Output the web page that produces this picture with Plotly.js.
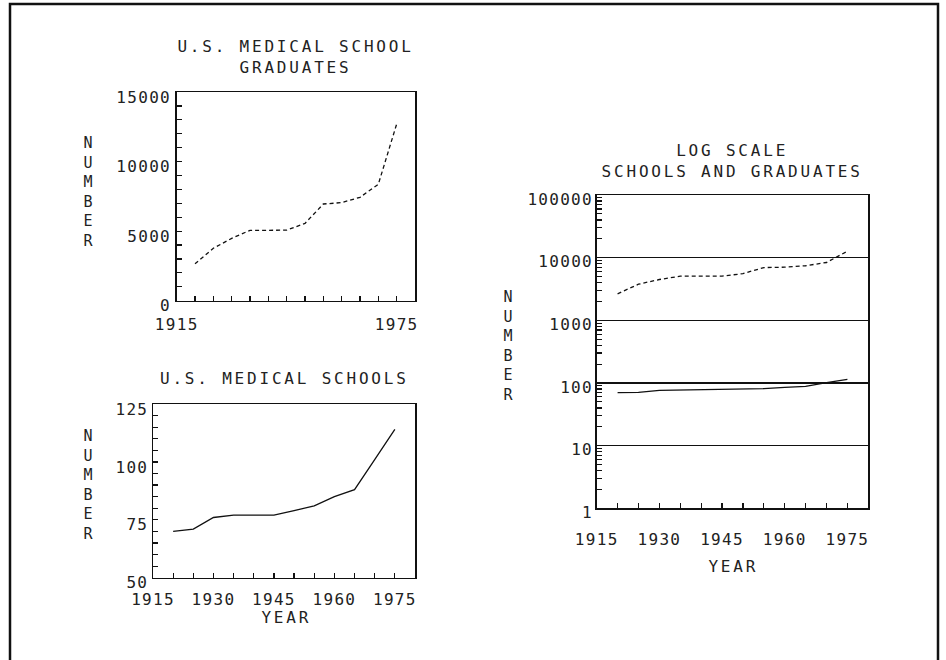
<!DOCTYPE html>
<html>
<head>
<meta charset="utf-8">
<script src="https://cdn.plot.ly/plotly-3.0.1.min.js"></script>
<style>
  html, body { margin: 0; padding: 0; background: #fff; }
  #chart .xtick text, #chart .ytick text,
  #chart .x2tick text, #chart .y2tick text,
  #chart .x3tick text, #chart .y3tick text { letter-spacing: 1.3px; }
  #chart .annotation-text { letter-spacing: 2.8px; }
</style>
</head>
<body>
<div id="chart" style="width:946px;height:660px;"></div>
<script>
// ---- Data ----
const years = [1920, 1925, 1930, 1935, 1940, 1945, 1950, 1955, 1960, 1965, 1970, 1975];
const graduates = [2650, 3770, 4480, 5060, 5060, 5070, 5560, 6950, 7050, 7430, 8370, 12700];
const schools = [70, 71, 76, 77, 77, 77, 79, 81, 85, 88, 101, 114];

const gradTickVals = [0, 5000, 10000, 15000];
const gradTickText = ['0', '5000', '10000', '15000'];
const schoolTickVals = [50, 75, 100, 125];
const schoolTickText = ['50', '75', '100', '125'];
const logTickVals = [1, 10, 100, 1000, 10000, 100000];
const logTickText = ['1', '10', '100', '1000', '10000', '100000'];
const yearTicksTop = [1915, 1975];
const yearTicks = [1915, 1930, 1945, 1960, 1975];

const titleTopLeft = 'U.S. MEDICAL SCHOOL<br>GRADUATES';
const titleBottomLeft = 'U.S. MEDICAL SCHOOLS';
const titleRight = 'LOG SCALE<br>SCHOOLS AND GRADUATES';
const yTitle = 'N<br>U<br>M<br>B<br>E<br>R';
const xTitle = 'YEAR';

// ---- Styling ----
const W = 946, H = 660;
const ink = '#111';
const txt = '#222';
const FONT = 'DejaVu Sans Mono';
const px = v => v / W;
const py = v => 1 - v / H;

const baseAxis = {
  showline: true, mirror: true, linecolor: ink, linewidth: 1.5,
  ticks: 'inside', ticklen: 5, tickwidth: 1.2, tickcolor: ink,
  showgrid: false, zeroline: false, fixedrange: true,
  tickfont: {family: FONT, size: 16, color: txt}
};

const gradDash = {color: ink, width: 1.3, dash: '4px,3px'};
const schoolLine = {color: ink, width: 1.3};

const data = [
  {x: years, y: graduates, xaxis: 'x', yaxis: 'y', mode: 'lines', line: gradDash},
  {x: years, y: schools, xaxis: 'x2', yaxis: 'y2', mode: 'lines', line: schoolLine},
  {x: years, y: graduates, xaxis: 'x3', yaxis: 'y3', mode: 'lines', line: gradDash},
  {x: years, y: schools, xaxis: 'x3', yaxis: 'y3', mode: 'lines', line: schoolLine}
];

const xMinor = {dtick: 5, tick0: 1915, ticks: 'inside', ticklen: 5, tickwidth: 1.2, tickcolor: ink};
const annFont = {family: FONT, size: 16, color: txt};
const yTitleFont = {family: FONT, size: 15, color: txt};

const layout = {
  width: W, height: H,
  margin: {l: 0, r: 0, t: 0, b: 0, pad: 0},
  paper_bgcolor: '#fff', plot_bgcolor: '#fff',
  showlegend: false, hovermode: false,
  font: {family: FONT, size: 16, color: txt},
  xaxis: Object.assign({}, baseAxis, {
    domain: [px(176.7), px(415)], anchor: 'y', range: [1915, 1980],
    tickmode: 'array', tickvals: yearTicksTop, ticktext: yearTicksTop.map(String),
    minor: xMinor, ticklabelstandoff: 9
  }),
  yaxis: Object.assign({}, baseAxis, {
    domain: [py(300.7), py(92)], anchor: 'x', range: [0, 15000],
    tickmode: 'array', tickvals: gradTickVals, ticktext: gradTickText,
    minor: {dtick: 1000, ticks: 'inside', ticklen: 5, tickwidth: 1.2, tickcolor: ink},
    ticklabelshift: 5, ticklabelstandoff: 1
  }),
  xaxis2: Object.assign({}, baseAxis, {
    domain: [px(153), px(415)], anchor: 'y2', range: [1915, 1980],
    tickmode: 'array', tickvals: yearTicks, ticktext: yearTicks.map(String),
    minor: xMinor, ticklabelstandoff: 7
  }),
  yaxis2: Object.assign({}, baseAxis, {
    domain: [py(577.7), py(404)], anchor: 'x2', range: [50, 125],
    tickmode: 'array', tickvals: schoolTickVals, ticktext: schoolTickText,
    minor: {dtick: 5, ticks: 'inside', ticklen: 5, tickwidth: 1.2, tickcolor: ink},
    ticklabelshift: 5, ticklabelstandoff: 0
  }),
  xaxis3: Object.assign({}, baseAxis, {
    domain: [px(596.7), px(868.3)], anchor: 'y3', range: [1915, 1980],
    tickmode: 'array', tickvals: yearTicks, ticktext: yearTicks.map(String),
    minor: xMinor, ticklabelstandoff: 16
  }),
  yaxis3: Object.assign({}, baseAxis, {
    domain: [py(508.3), py(195)], anchor: 'x3', type: 'log', range: [0, 5],
    tickmode: 'array', tickvals: logTickVals, ticktext: logTickText,
    showgrid: true, gridcolor: ink, gridwidth: 1.3,
    minor: {dtick: 'D1', ticks: 'inside', ticklen: 5, tickwidth: 1.2, tickcolor: ink, showgrid: false},
    ticklabelshift: 4, ticklabelstandoff: -1
  }),
  shapes: [
    {type: 'rect', xref: 'paper', yref: 'paper',
     x0: px(10), x1: px(938), y0: -0.2, y1: py(4),
     line: {color: ink, width: 2.5}, fillcolor: 'rgba(0,0,0,0)'}
  ],
  annotations: [
    {text: titleTopLeft, xref: 'paper', yref: 'paper', x: px(295), y: py(57),
     xanchor: 'center', yanchor: 'middle', showarrow: false, font: annFont},
    {text: titleBottomLeft, xref: 'paper', yref: 'paper', x: px(284), y: py(378.5),
     xanchor: 'center', yanchor: 'middle', showarrow: false, font: annFont},
    {text: titleRight, xref: 'paper', yref: 'paper', x: px(732), y: py(161),
     xanchor: 'center', yanchor: 'middle', showarrow: false, font: annFont},
    {text: yTitle, xref: 'paper', yref: 'paper', x: px(90), y: py(192),
     xanchor: 'center', yanchor: 'middle', showarrow: false, font: yTitleFont},
    {text: yTitle, xref: 'paper', yref: 'paper', x: px(90), y: py(485),
     xanchor: 'center', yanchor: 'middle', showarrow: false, font: yTitleFont},
    {text: yTitle, xref: 'paper', yref: 'paper', x: px(510), y: py(346),
     xanchor: 'center', yanchor: 'middle', showarrow: false, font: yTitleFont},
    {text: xTitle, xref: 'paper', yref: 'paper', x: px(286), y: py(617.5),
     xanchor: 'center', yanchor: 'middle', showarrow: false, font: annFont},
    {text: xTitle, xref: 'paper', yref: 'paper', x: px(733), y: py(566.5),
     xanchor: 'center', yanchor: 'middle', showarrow: false, font: annFont}
  ]
};

Plotly.newPlot('chart', data, layout, {staticPlot: true, displayModeBar: false});
</script>
</body>
</html>
